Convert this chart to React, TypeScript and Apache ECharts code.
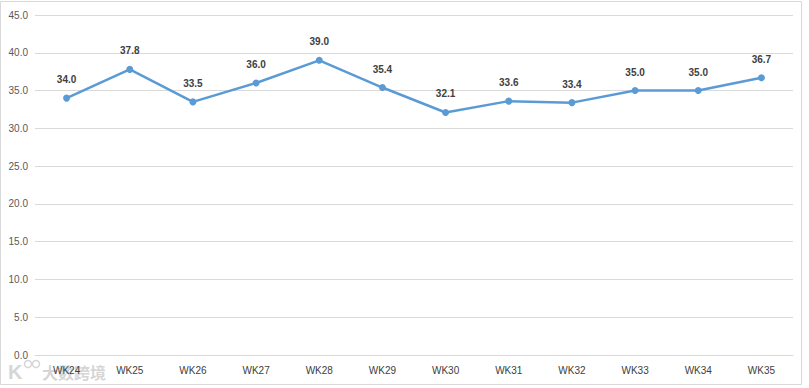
import React, { useEffect, useRef } from "react";
import * as echarts from "echarts";

const categories = ["WK24", "WK25", "WK26", "WK27", "WK28", "WK29", "WK30", "WK31", "WK32", "WK33", "WK34", "WK35"];
const values = [34.0, 37.8, 33.5, 36.0, 39.0, 35.4, 32.1, 33.6, 33.4, 35.0, 35.0, 36.7];
const yMin = 0;
const yMax = 45;
const yStep = 5;
const watermark = "大数跨境";

export default function App() {
  const ref = useRef<HTMLDivElement>(null);
  useEffect(() => {
    const chart = echarts.init(ref.current!, null, { renderer: "svg" });
    chart.setOption({
      animation: false,
      backgroundColor: "#ffffff",
      grid: { left: 35, right: 16, top: 15, bottom: 33, containLabel: false },
      xAxis: {
        type: "category",
        data: categories,
        boundaryGap: true,
        axisLine: { show: true, lineStyle: { color: "#d9d9d9", width: 1 } },
        axisTick: { show: false },
        axisLabel: { color: "#404040", fontSize: 10, fontFamily: "Liberation Sans", margin: 10 },
      },
      yAxis: {
        type: "value",
        min: yMin,
        max: yMax,
        interval: yStep,
        axisLine: { show: false },
        axisTick: { show: false },
        splitLine: { lineStyle: { color: "#d9d9d9", width: 1 } },
        axisLabel: {
          color: "#595959",
          fontSize: 10,
          fontFamily: "Liberation Sans",
          margin: 7,
          formatter: (v: number) => v.toFixed(1),
        },
      },
      series: [
        {
          type: "line",
          data: values,
          symbol: "circle",
          symbolSize: 7,
          lineStyle: { color: "#5b9bd5", width: 2.5 },
          itemStyle: { color: "#5b9bd5" },
          label: {
            show: true,
            position: "top",
            distance: 10,
            color: "#404040",
            fontSize: 10,
            fontWeight: "bold",
            fontFamily: "Liberation Sans",
            formatter: (p: any) => Number(p.value).toFixed(1),
          },
        },
      ],
      graphic: [
        {
          type: "rect",
          shape: { x: 0.5, y: 1.5, width: 801, height: 383 },
          style: { fill: "none", stroke: "#d9d9d9", lineWidth: 1 },
          silent: true,
        },
        {
          type: "text",
          left: 8,
          top: 362,
          style: { text: "K", fill: "#d6d6d6", font: "bold 20px 'Liberation Sans'" },
          silent: true,
        },
        {
          type: "circle",
          shape: { cx: 28, cy: 364, r: 3.5 },
          style: { fill: "none", stroke: "#d6d6d6", lineWidth: 1.5 },
          silent: true,
        },
        {
          type: "circle",
          shape: { cx: 36, cy: 364, r: 3.5 },
          style: { fill: "none", stroke: "#d6d6d6", lineWidth: 1.5 },
          silent: true,
        },
        {
          type: "text",
          left: 42,
          top: 364,
          style: { text: watermark, fill: "rgba(195,195,195,0.7)", font: "bold 16px 'Noto Sans CJK SC'" },
          silent: true,
        },
      ],
    });
    return () => chart.dispose();
  }, []);
  return (
    <div
      ref={ref}
      style={{ position: "fixed", left: 0, top: 0, width: 809, height: 388 }}
    />
  );
}
